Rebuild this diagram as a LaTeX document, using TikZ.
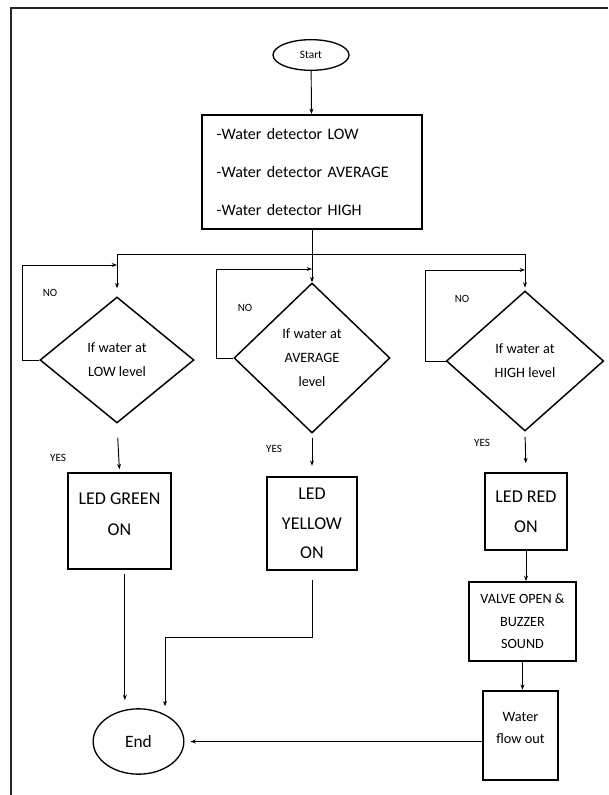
\documentclass[tikz,border=0pt]{standalone}
\usepackage{fontspec}
\setmainfont{Carlito}
\usetikzlibrary{arrows.meta, positioning, calc, shapes.geometric}
\tikzset{
  procbox/.style={
    draw=black, line width=1.6pt, align=center, inner sep=1pt,
    font=\fontsize{13.5}{22.5}\selectfont},
  decision/.style={
    diamond, draw=black, line width=1.1pt, align=center, inner sep=0pt,
    font=\fontsize{10.7}{18}\selectfont},
  terminal/.style={
    ellipse, draw=black, line width=1pt, inner sep=1pt},
  tag/.style={font=\fontsize{8.3}{9}\selectfont, inner sep=0pt},
  flow/.style={-{Stealth[length=4pt, width=3pt]}, draw=black, line width=.7pt},
}

\begin{document}
\begin{tikzpicture}[x=0.75pt, y=-0.75pt]
  \useasboundingbox (0,0) rectangle (608,795);
  % page frame
  \draw[line width=1.5pt, black!85] (11,795) |- (608,8);

  % top
  \node[terminal, minimum width=57pt, minimum height=23pt,
        font=\fontsize{8.5}{9}\selectfont] (start) at (311,55) {Start};
  \node[procbox, text width=143pt, minimum height=85.5pt, inner xsep=11pt,
        align=left, font=\fontsize{12}{28.5}\selectfont] (detect) at (312,172)
       {-Water detector LOW\\-Water detector AVERAGE\\-Water detector HIGH};

  % decisions
  \node[decision, minimum width=115.5pt, minimum height=94.5pt] (dLow)  at (117,360)
       {If water at\\LOW level};
  \node[decision, minimum width=117pt, minimum height=112.5pt] (dAvg)  at (312,358)
       {If water at\\AVERAGE\\level};
  \node[decision, minimum width=118pt, minimum height=105pt] (dHigh) at (525,361)
       {If water at\\HIGH level};

  % outputs
  \node[procbox, minimum width=77pt, minimum height=72pt,
        font=\fontsize{13.5}{23}\selectfont] (green) at (119.5,521)
       {LED GREEN\\ON\\[-13pt]};
  \node[procbox, minimum width=67.5pt, minimum height=70pt,
        font=\fontsize{13.5}{22}\selectfont] (yellow) at (312,523.5) {LED\\YELLOW\\ON};
  \node[procbox, minimum width=61.5pt, minimum height=58pt] (red) at (526,511.5)
       {LED RED\\ON};
  \node[procbox, minimum width=80pt, minimum height=59pt,
        font=\fontsize{10.6}{17}\selectfont] (valve) at (522.5,621.5)
       {VALVE OPEN \&\\BUZZER\\SOUND};
  \node[procbox, minimum width=56pt, minimum height=67pt,
        font=\fontsize{10.7}{16.5}\selectfont] (flowout) at (520.5,735.5)
       {Water\\flow out\\[-5pt]};
  \node[terminal, minimum width=68pt, minimum height=49pt,
        font=\fontsize{13}{14}\selectfont] (end) at (138.5,741.5) {End};

  \draw[flow] (start) -- (detect);

  % bus to the three tests
  \coordinate (bus)  at (detect.south |- 0,254);
  \coordinate (busL) at (dLow.north |- bus);
  \coordinate (busR) at (dHigh.north |- bus);
  \draw[line width=.7pt] (detect.south) -- (bus);
  \draw[line width=.7pt] (busL) -- (busR);
  \draw[flow, shorten >=6pt] (busL) -- (dLow.north);
  \draw[flow] (bus) -- (dAvg.north);
  \draw[flow, shorten >=2pt] (busR) -- (dHigh.north);

  % NO loops
  \coordinate (backL) at (dLow.north |- 0,265);
  \coordinate (backM) at (dAvg.north |- 0,269);
  \coordinate (backR) at (dHigh.north |- 0,270);
  \draw[flow] (dLow.west) -- ++(-17,0) |- (backL);
  \draw[flow] (dAvg.west) -- ++(-17,0) |- (backM);
  \draw[flow] (dHigh.west) -- ++(-20,0) |- (backR);
  \node[tag] (noL) at (50,293) {NO};
  \node[tag] (noM) at (245,308) {NO};
  \node[tag] (noR) at (462,299) {NO};

  % YES branches
  \draw[flow, shorten <=10.5pt, shorten >=2pt] (dLow.south) -- (green.north);
  \draw[flow, shorten <=3pt, shorten >=7.5pt] (dAvg.south) -- (yellow.north);
  \draw[flow, shorten <=4pt, shorten >=6.5pt] (dHigh.south) -- (red.north);
  \node[tag] (yesL) at (58,458) {YES};
  \node[tag] (yesM) at (274,449) {YES};
  \node[tag] (yesR) at (482,443) {YES};

  % to the end
  \draw[flow, shorten <=3pt] ([xshift=4pt]green.south) -- ++(0,130);
  \draw[flow, shorten <=6.5pt] (yellow.south) -- ++(0,66) -| ++(-147,69);
  \draw[flow] (red.south) -- (red.south |- valve.north);
  \draw[flow] (valve.south) -- (valve.south |- flowout.north);
  \draw[flow, shorten >=4.5pt] (flowout.west |- end.east) -- (end.east);
\end{tikzpicture}
\end{document}
